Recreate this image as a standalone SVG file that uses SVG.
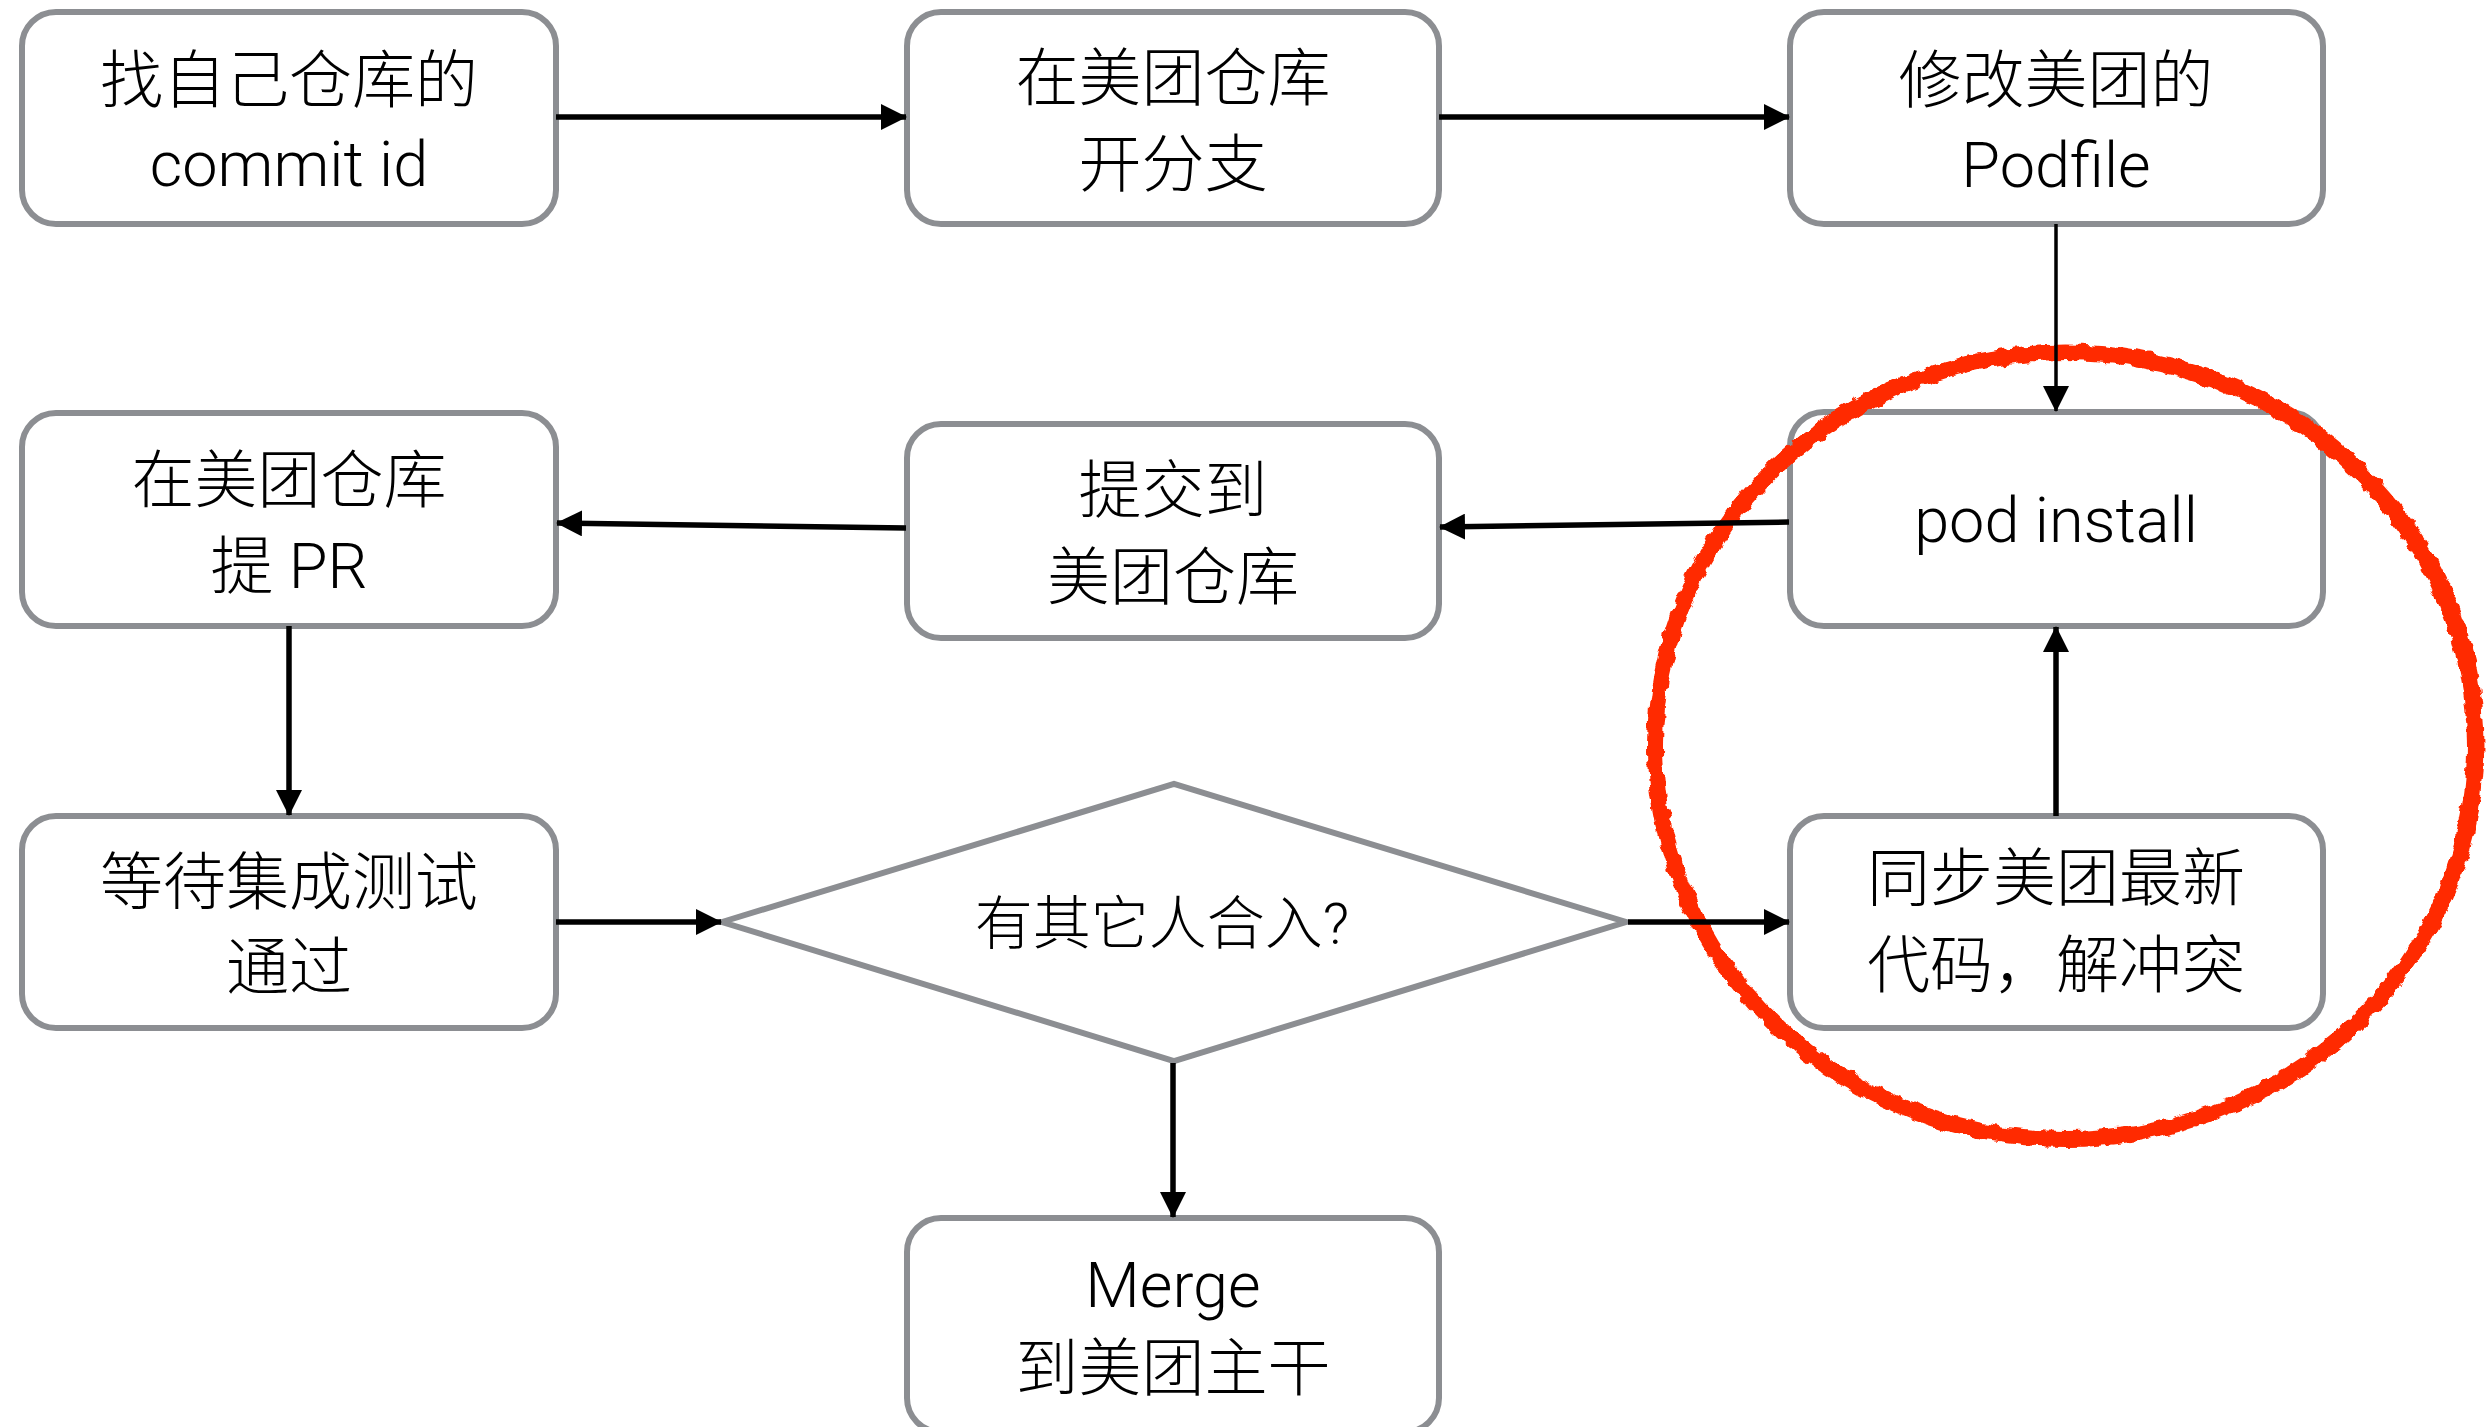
<svg xmlns="http://www.w3.org/2000/svg" width="2490" height="1427" viewBox="0 0 2490 1427">
<style>
.box{fill:#fff;stroke:#8c8e92;stroke-width:6}
.t{font-family:Roboto,"Noto Sans CJK SC",sans-serif;font-size:63px;font-weight:300;fill:#000;text-anchor:middle}
.dt{font-size:58px}
.c{fill:none;stroke:#000;stroke-width:5.5;marker-end:url(#ah)}
.thin{stroke-width:3.5}
.red{fill:none;stroke:#ff2a00;stroke-linecap:round}
</style>
<defs>
<marker id="ah" markerUnits="userSpaceOnUse" markerWidth="26" markerHeight="26" refX="25" refY="13" orient="auto">
<path d="M0,0 L26,13 L0,26 z" fill="#000"/>
</marker>
<filter id="rough" x="-10%" y="-10%" width="120%" height="120%">
<feTurbulence type="fractalNoise" baseFrequency="0.09" numOctaves="2" seed="3" result="n"/>
<feDisplacementMap in="SourceGraphic" in2="n" scale="9" xChannelSelector="R" yChannelSelector="G"/>
</filter>
</defs>
<rect width="2490" height="1427" fill="#fff"/>

<g id="n1"><rect class="box" x="22" y="12" width="534" height="212" rx="34"/>
<text class="t" x="289" y="102">找自己仓库的</text><text class="t" x="289" y="186">commit id</text></g>
<g id="n2"><rect class="box" x="907" y="12" width="532" height="212" rx="34"/>
<text class="t" x="1173" y="100">在美团仓库</text><text class="t" x="1173" y="186">开分支</text></g>
<g id="n3"><rect class="box" x="1790" y="12" width="533" height="212" rx="34"/>
<text class="t" x="2056" y="102">修改美团的</text><text class="t" x="2056" y="187">Podfile</text></g>
<g id="n4"><rect class="box" x="22" y="413" width="534" height="213" rx="34"/>
<text class="t" x="289" y="502">在美团仓库</text><text class="t" x="289" y="588">提 PR</text></g>
<g id="n5"><rect class="box" x="907" y="424" width="532" height="214" rx="34"/>
<text class="t" x="1173" y="512">提交到</text><text class="t" x="1173" y="599">美团仓库</text></g>
<g id="n6"><rect class="box" x="1790" y="412" width="533" height="214" rx="34"/>
<text class="t" x="2056" y="542">pod install</text></g>
<g id="n7"><rect class="box" x="22" y="816" width="534" height="212" rx="34"/>
<text class="t" x="289" y="904">等待集成测试</text><text class="t" x="289" y="989">通过</text></g>
<g id="n8"><polygon class="box" points="722,922 1174,784 1626,922 1174,1061"/>
<text class="t dt" x="1162" y="944">有其它人合入?</text></g>
<g id="n9"><rect class="box" x="1790" y="816" width="533" height="212" rx="34"/>
<text class="t" x="2056" y="900">同步美团最新</text><text class="t" x="2056" y="987">代码，解冲突</text></g>
<g id="n10"><rect class="box" x="907" y="1218" width="532" height="214" rx="34"/>
<text class="t" x="1173" y="1307">Merge</text><text class="t" x="1173" y="1390">到美团主干</text></g>

<g id="highlight" filter="url(#rough)">
<ellipse class="red" cx="2065" cy="746" rx="410" ry="393" stroke-width="16"/>
<ellipse class="red" cx="2067" cy="744" rx="414" ry="396" stroke-width="7" transform="rotate(2 2067 744)"/>
</g>

<g id="connectors">
<path class="c" d="M556,117 L906,117"/>
<path class="c" d="M1439,117 L1789,117"/>
<path class="c thin" d="M2056,224 L2056,411"/>
<path class="c" d="M1789,522 L1440,527"/>
<path class="c" d="M906,528 L557,523"/>
<path class="c" d="M289,626 L289,815"/>
<path class="c" d="M556,922 L721,922"/>
<path class="c" d="M1628,922 L1789,922"/>
<path class="c" d="M2056,816 L2056,627"/>
<path class="c" d="M1173,1063 L1173,1217"/>
</g>
</svg>
